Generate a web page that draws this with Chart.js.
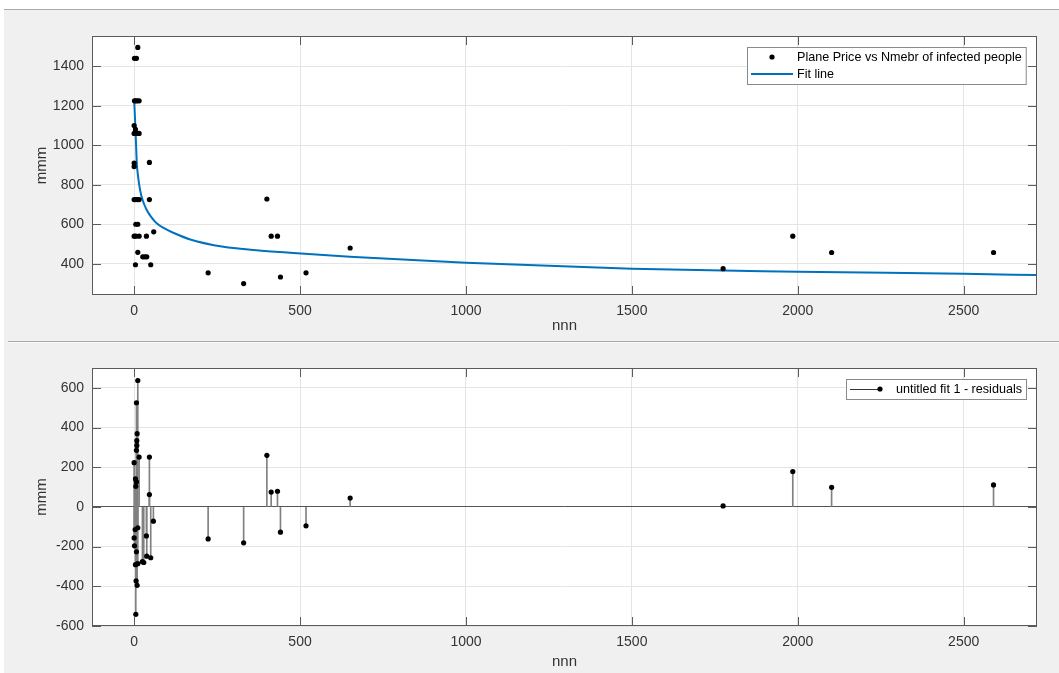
<!DOCTYPE html>
<html>
<head>
<meta charset="utf-8">
<title>Plane price fit</title>
<script src="https://cdn.jsdelivr.net/npm/chart.js@4.4.1/dist/chart.umd.min.js"></script>
<style>
  html, body { margin: 0; padding: 0; background: #fff; }
  #fig { position: relative; width: 1059px; height: 673px; overflow: hidden; }
  #panel { position: absolute; left: 4px; top: 9px; right: 0; bottom: 0; background: #f0f0f0; border-top: 1px solid #a9a9a9; }
  #sep { position: absolute; left: 8px; right: 0; top: 341px; height: 1px; background: #a9a9a9; border-bottom: 1px solid #fafafa; }
  canvas { position: absolute; left: 0; }
  #topCanvas { top: 0; }
  #resCanvas { top: 342px; }
</style>
</head>
<body>
<div id="fig">
  <div id="panel"></div>
  <div id="sep"></div>
  <canvas id="topCanvas" width="1059" height="340"></canvas>
  <canvas id="resCanvas" width="1059" height="331"></canvas>
</div>
<script>
// ===== DATA =====
const xTicks = [0, 500, 1000, 1500, 2000, 2500];
const topYTicks = [400, 600, 800, 1000, 1200, 1400];
const resYTicks = [-600, -400, -200, 0, 200, 400, 600];

// infected people vs plane price
const priceX = [11, 1, 7, 1, 5, 10, 15, 0, 4, 0, 7, 15, 0, 0, 46, 0, 5, 10, 15, 46, 5, 11, 0, 5, 15, 37, 59, 11, 26, 32, 38, 4, 50, 223, 330, 400, 413, 432, 441, 518, 651, 1775, 1985, 2102, 2590];
const priceY = [1495, 1440, 1440, 1225, 1225, 1225, 1225, 1100, 1080, 1060, 1060, 1060, 910, 892, 913, 725, 725, 725, 725, 725, 600, 600, 540, 540, 540, 540, 562, 458, 435, 435, 435, 395, 395, 354, 300, 728, 540, 540, 333, 354, 480, 375, 540, 457, 457];

// fit line
const fitX = [0.5, 3, 5, 8, 12, 18, 26, 38, 50, 68, 90, 118, 169, 269, 369, 470, 650, 1000, 1500, 2000, 2500, 2721];
const fitY = [1215, 1120, 1040, 910, 840, 773, 720, 672, 640, 605, 580, 557, 523, 486, 469, 456, 435, 405, 375, 360, 349, 343];

// residuals
const resX = [11, 7, 9, 8, 8, 7, 15, 0, 46, 4, 7, 5, 46, 58, 3, 11, 0, 37, 1, 7, 38, 50, 29, 25, 4, 11, 6, 9, 5, 223, 330, 400, 413, 432, 441, 518, 651, 1775, 1985, 2102, 2590];
const resY = [637, 525, 369, 334, 310, 285, 251, 223, 251, 141, 126, 104, 62, -72, -114, -105, -156, -146, -196, -226, -248, -256, -280, -276, -291, -286, -373, -395, -541, -161, -181, 260, 75, 79, -127, -95, 45, 5, 178, 99, 111];

const FONT = "'Liberation Sans', Arial, Helvetica, sans-serif";
const AXIS_COLOR = "#5a5a5a";
const GRID_COLOR = "#e4e4e4";

const pts = (xs, ys) => xs.map((x, i) => ({ x: x, y: ys[i] }));

// ===== MATLAB style axes: white area, box, inward ticks, legend =====
const matlabAxes = {
    id: "matlabAxes",
    beforeDraw(chart) {
        const a = chart.chartArea;
        const ctx = chart.ctx;
        ctx.save();
        ctx.fillStyle = "#fff";
        ctx.fillRect(a.left, a.top, a.right - a.left, a.bottom - a.top);
        ctx.restore();
    },
    afterDraw(chart) {
        const a = chart.chartArea;
        const ctx = chart.ctx;
        const xs = chart.scales.x, ys = chart.scales.y;
        const len = 9;
        ctx.save();
        ctx.strokeStyle = AXIS_COLOR;
        ctx.lineWidth = 1;
        ctx.beginPath();
        xs.ticks.forEach(t => {
            const px = Math.round(xs.getPixelForValue(t.value)) + 0.5;
            ctx.moveTo(px, a.bottom); ctx.lineTo(px, a.bottom - len);
            ctx.moveTo(px, a.top); ctx.lineTo(px, a.top + len);
        });
        ys.ticks.forEach(t => {
            const py = Math.round(ys.getPixelForValue(t.value)) + 0.5;
            ctx.moveTo(a.left, py); ctx.lineTo(a.left + len, py);
            ctx.moveTo(a.right, py); ctx.lineTo(a.right - len, py);
        });
        ctx.stroke();
        ctx.strokeRect(a.left + 0.5, a.top + 0.5, a.right - a.left - 1, a.bottom - a.top - 1);

        // legend inside, top right
        const items = chart.data.datasets.filter(d => d.legendKind);
        ctx.font = "12.6px " + FONT;
        const tw = Math.max(...items.map(d => ctx.measureText(d.label).width));
        const w = 50 + tw + 4, h = items.length * 17 + 3;
        const left = Math.round(a.right - 11 - w), top = a.top + 11;
        ctx.fillStyle = "#fff";
        ctx.fillRect(left, top, w, h);
        ctx.strokeStyle = "#8a8a8a";
        ctx.strokeRect(left + 0.5, top + 0.5, w, h);
        items.forEach((d, i) => {
            const cy = top + 10 + i * 17;
            if (d.legendKind === "line") {
                ctx.strokeStyle = d.borderColor;
                ctx.lineWidth = 2;
                ctx.beginPath(); ctx.moveTo(left + 4, cy); ctx.lineTo(left + 46, cy); ctx.stroke();
            }
            if (d.legendKind === "stem") {
                ctx.strokeStyle = "#333";
                ctx.lineWidth = 1;
                ctx.beginPath(); ctx.moveTo(left + 4, cy + 0.5); ctx.lineTo(left + 34, cy + 0.5); ctx.stroke();
                ctx.fillStyle = "#000";
                ctx.beginPath(); ctx.arc(left + 34, cy, 2.6, 0, Math.PI * 2); ctx.fill();
            }
            if (d.legendKind === "dot") {
                ctx.fillStyle = "#000";
                ctx.beginPath(); ctx.arc(left + 25, cy, 2.6, 0, Math.PI * 2); ctx.fill();
            }
            ctx.fillStyle = "#000";
            ctx.textBaseline = "middle";
            ctx.textAlign = "left";
            ctx.fillText(d.label, left + 50, cy + 1);
        });
        ctx.restore();
    }
};

function buildScales(yTicks, yMin, yMax, xAxisHeight, xTitlePad, zeroLine) {
    return {
        x: {
            type: "linear",
            min: -127, max: 2721,
            offset: false,
            afterBuildTicks: s => { s.ticks = xTicks.map(v => ({ value: v })); },
            afterFit: s => { s.height = xAxisHeight; },
            grid: { color: GRID_COLOR, drawTicks: false, offset: false },
            border: { display: false },
            ticks: { padding: 8, color: "#333", font: { family: FONT, size: 14 }, callback: v => String(v) },
            title: { display: true, text: "nnn", color: "#333", padding: { top: 0, bottom: xTitlePad }, font: { family: FONT, size: 15 } }
        },
        y: {
            type: "linear",
            min: yMin, max: yMax,
            afterBuildTicks: s => { s.ticks = yTicks.map(v => ({ value: v })); },
            afterFit: s => { s.width = 92; },
            grid: {
                drawTicks: false,
                color: c => (zeroLine && c.tick && c.tick.value === 0) ? "#555" : GRID_COLOR
            },
            border: { display: false },
            ticks: { padding: 8, color: "#333", font: { family: FONT, size: 14 }, callback: v => String(v) },
            title: { display: true, text: "mmm", color: "#333", padding: { top: 33, bottom: 0 }, font: { family: FONT, size: 15 } }
        }
    };
}

// ===== TOP: data and fit =====
new Chart(document.getElementById("topCanvas"), {
    type: "scatter",
    data: {
        datasets: [
            {
                label: "Plane Price vs Nmebr of infected people",
                legendKind: "dot",
                data: pts(priceX, priceY),
                pointRadius: 2.6,
                pointBackgroundColor: "#000",
                pointBorderWidth: 0,
                order: 1
            },
            {
                label: "Fit line",
                legendKind: "line",
                data: pts(fitX, fitY),
                showLine: true,
                borderColor: "#0072bd",
                borderWidth: 2,
                pointRadius: 0,
                cubicInterpolationMode: "monotone",
                order: 2
            }
        ]
    },
    options: {
        responsive: false,
        animation: false,
        layout: { padding: { left: 0, top: 36, right: 22, bottom: 0 } },
        plugins: { legend: { display: false }, tooltip: { enabled: false } },
        scales: buildScales(topYTicks, 242, 1553, 45, 5, false)
    },
    plugins: [matlabAxes]
});

// ===== BOTTOM: residuals =====
new Chart(document.getElementById("resCanvas"), {
    type: "scatter",
    data: {
        datasets: [
            {
                label: "untitled fit 1 - residuals",
                legendKind: "stem",
                data: pts(resX, resY),
                pointRadius: 2.6,
                pointBackgroundColor: "#000",
                pointBorderWidth: 0,
                order: 1
            },
            {
                type: "bar",
                label: "stems",
                data: pts(resX, resY),
                barThickness: 1,
                backgroundColor: "#808080",
                order: 2
            }
        ]
    },
    options: {
        responsive: false,
        animation: false,
        layout: { padding: { left: 0, top: 26, right: 22, bottom: 0 } },
        plugins: { legend: { display: false }, tooltip: { enabled: false } },
        scales: buildScales(resYTicks, -600, 700, 47, 2, true)
    },
    plugins: [matlabAxes]
});
</script>
</body>
</html>
